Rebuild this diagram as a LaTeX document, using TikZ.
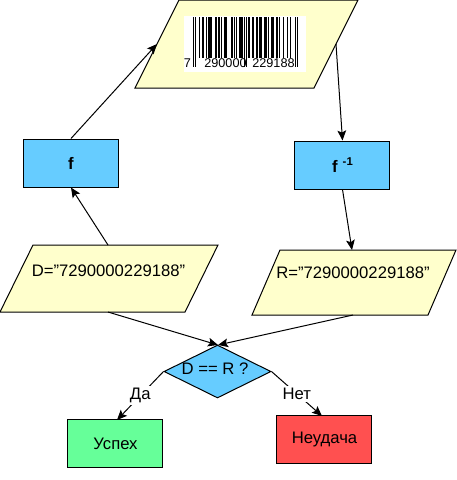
\documentclass[tikz,border=0pt]{standalone}
\usepackage{fontspec}
\setmainfont{Liberation Sans}
\usetikzlibrary{shapes.geometric,arrows.meta}
\definecolor{paperyellow}{HTML}{FFFFCC}
\definecolor{procblue}{HTML}{66CCFF}
\definecolor{okgreen}{HTML}{66FF99}
\definecolor{failred}{HTML}{FF5050}
\begin{document}
\begin{tikzpicture}[x=0.75pt,y=-0.75pt,
  every node/.style={font=\fontsize{12.5}{14}\selectfont},
  paper/.style={draw,line width=0.75pt,fill=paperyellow,line join=miter},
  procbox/.style={draw,line width=0.75pt,rectangle,inner sep=0pt,minimum width=71.25pt,minimum height=36pt},
  arr/.style={line width=0.75pt,-{Stealth[length=7.5pt,width=6.5pt,inset=1.5pt]}},
  lab/.style={fill=white,inner sep=1.5pt},
  digits/.style={font=\fontsize{9.5}{11}\selectfont,inner sep=0pt}
]
\useasboundingbox (0,0) rectangle (457,480);

% top parallelogram with barcode
\draw[paper] (179,0) -- (358,0) -- (314,88) -- (135,88) -- cycle;
\coordinate (topW) at (157,44);
\coordinate (topE) at (336,44);
\fill[white] (184,16) rectangle (306,72);
\foreach \s/\w in {0/1,2/1,46/1,48/1,92/1,94/1}
  \fill[black] (193+\s*1.105,17) rectangle ({193+(\s+\w)*1.105},67);
\foreach \s/\w in {5/1,8/2,12/1,14/3,20/2,23/1,25/1,28/3,34/2,37/1,39/1,42/3,
                   50/2,53/2,57/2,60/2,64/3,68/1,71/2,75/2,78/1,81/1,85/1,88/1}
  \fill[black] (193+\s*1.105,17) rectangle ({193+(\s+\w)*1.105},58);
\node[digits] (bc7) at (187.5,63.5) {7};
\node[digits] (bcL) at (225.5,63.5) {290000};
\node[digits] (bcR) at (273.5,63.5) {229188};

% process boxes
\node[procbox,fill=procblue] (f) at (71,163) {\textbf{f}};
\node[procbox,fill=procblue] (finv) at (342.5,165) {\textbf{f\hspace{0.3em}\raisebox{0.45em}{\fontsize{8.5}{10}\selectfont -1}}};

% data parallelograms
\draw[paper] (33,245) -- (218,245) -- (185,312) -- (0,312) -- cycle;
\node (Dt) at (108.5,271) {D=”7290000229188\char34};
\draw[paper] (280,250) -- (456,250) -- (428,315) -- (252,315) -- cycle;
\node (Rt) at (353,273) {R=”7290000229188\char34};

% decision
\node[diamond,draw,line width=0.75pt,fill=procblue,inner sep=0pt,
      minimum width=80.25pt,minimum height=39.75pt] (dec) at (217.5,371.5) {};
\node (dect) at (215,368.5) {D == R ?};

% results
\node[procbox,fill=okgreen] (ok) at (115.5,443.5) {Успех};
\node[procbox,fill=failred] (fail) at (324.5,439.5) {Неудача};

% connectors
\coordinate (Dup) at (108,245);
\coordinate (Ddown) at (108,312);
\coordinate (Rup) at (352,250);
\coordinate (Rdown) at (353,315);
\coordinate (decin) at (218,345);
\coordinate (okin) at (117,420);
\coordinate (failin) at (322,416);

\draw[arr] (Dup) -- (f.south);
\draw[arr] (f.north) -- (topW);
\draw[arr] (topE) -- (finv.north);
\draw[arr] (finv.south) -- (Rup);
\draw[arr] (Ddown) -- (decin);
\draw[arr] (Rdown) -- (decin);
\draw[arr] (dec.west) -- node[lab] (yes) {Да} (okin);
\draw[arr] (dec.east) -- node[lab] (no) {Нет} (failin);
\end{tikzpicture}
\end{document}
